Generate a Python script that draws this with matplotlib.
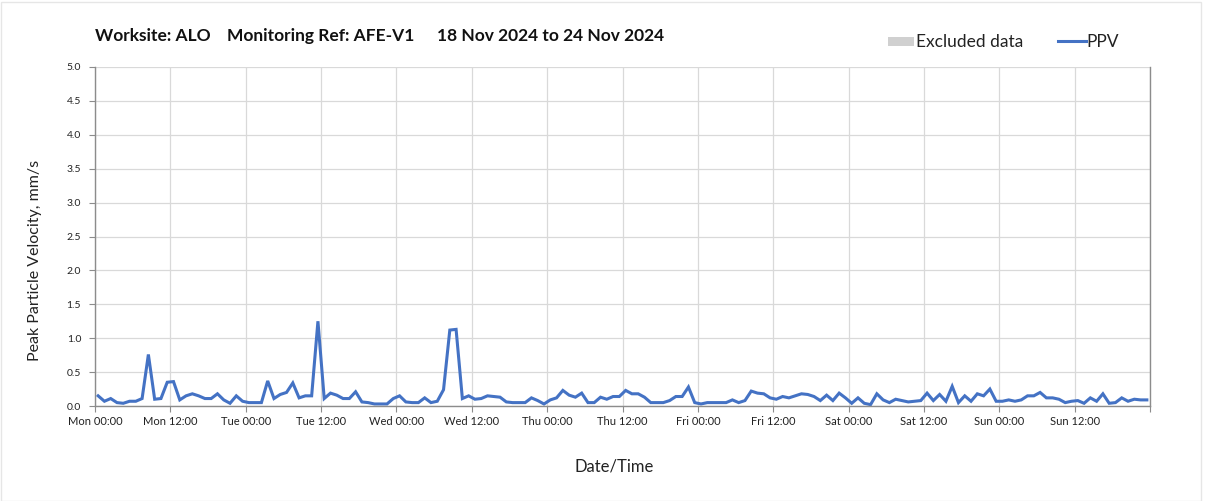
import matplotlib
matplotlib.use("Agg")
import matplotlib.pyplot as plt
from matplotlib.patches import Rectangle
from matplotlib.lines import Line2D
import numpy as np

plt.rcParams['font.family'] = ['Lato', 'DejaVu Sans']

# hourly PPV values (mm/s), Mon 18 Nov 2024 00:00 -> Sun 24 Nov 2024 23:00
ppv = [
    0.15, 0.07, 0.11, 0.05, 0.04, 0.07, 0.07, 0.11, 0.76, 0.10, 0.11, 0.35,
    0.36, 0.09, 0.15, 0.18, 0.15, 0.11, 0.11, 0.18, 0.09, 0.04, 0.15, 0.07,
    0.05, 0.05, 0.05, 0.37, 0.11, 0.17, 0.20, 0.34, 0.12, 0.15, 0.15, 1.25,
    0.11, 0.19, 0.16, 0.11, 0.11, 0.21, 0.06, 0.05, 0.03, 0.03, 0.03, 0.11,
    0.15, 0.06, 0.05, 0.05, 0.12, 0.05, 0.07, 0.24, 1.12, 1.13, 0.11, 0.15,
    0.10, 0.11, 0.15, 0.14, 0.13, 0.06, 0.05, 0.05, 0.05, 0.12, 0.08, 0.03,
    0.09, 0.12, 0.23, 0.16, 0.13, 0.19, 0.05, 0.05, 0.13, 0.10, 0.14, 0.14,
    0.23, 0.18, 0.18, 0.13, 0.05, 0.05, 0.05, 0.08, 0.14, 0.14, 0.28, 0.05,
    0.03, 0.05, 0.05, 0.05, 0.05, 0.09, 0.05, 0.08, 0.22, 0.19, 0.18, 0.12,
    0.10, 0.14, 0.12, 0.15, 0.18, 0.17, 0.14, 0.08, 0.16, 0.08, 0.19, 0.12,
    0.04, 0.12, 0.04, 0.02, 0.18, 0.09, 0.05, 0.10, 0.08, 0.06, 0.07, 0.08,
    0.19, 0.08, 0.17, 0.07, 0.29, 0.05, 0.15, 0.07, 0.18, 0.15, 0.25, 0.07,
    0.07, 0.09, 0.07, 0.09, 0.15, 0.15, 0.20, 0.12, 0.12, 0.10, 0.05, 0.07,
    0.08, 0.04, 0.12, 0.07, 0.18, 0.04, 0.05, 0.12, 0.07, 0.10, 0.09, 0.09,
]
hours = np.arange(len(ppv)) + 0.5

tick_hours = list(range(0, 169, 12))
tick_labels = ["Mon 00:00", "Mon 12:00", "Tue 00:00", "Tue 12:00", "Wed 00:00",
               "Wed 12:00", "Thu 00:00", "Thu 12:00", "Fri 00:00", "Fri 12:00",
               "Sat 00:00", "Sat 12:00", "Sun 00:00", "Sun 12:00", ""]
y_ticks = [0.0, 0.5, 1.0, 1.5, 2.0, 2.5, 3.0, 3.5, 4.0, 4.5, 5.0]

W, H = 1208, 501
fig = plt.figure(figsize=(W / 100, H / 100), dpi=100)
fig.patch.set_facecolor('white')
ax = fig.add_axes([95 / W, 1 - 406 / H, (1150 - 95) / W, (406 - 67) / H])

line_color = '#4472C4'
ax.plot(hours, ppv, color=line_color, lw=2.2, solid_joinstyle='miter')

ax.set_xlim(0, 168)
ax.set_ylim(0, 5.0)
ax.set_xticks(tick_hours)
ax.set_xticklabels(tick_labels, fontsize=8, color='#222222')
ax.set_yticks(y_ticks)
ax.set_yticklabels([f"{v:.1f}" for v in y_ticks], fontsize=7.5, color='#222222')
ax.grid(True, color='#d9d9d9', lw=0.9)
ax.set_axisbelow(True)
for s in ['left', 'bottom', 'right']:
    ax.spines[s].set_color('#8c8c8c')
    ax.spines[s].set_linewidth(1.0)
ax.spines['top'].set_visible(False)
ax.tick_params(axis='both', direction='out', length=4, color='#8c8c8c', pad=3)
ax.tick_params(axis='y', pad=6)

ax.set_xlabel("Date/Time", fontsize=12, color='#222222')
ax.xaxis.set_label_coords((614 - 95) / 1055, -(466 - 406) / 339)
ax.set_ylabel("Peak Particle Velocity, mm/s", fontsize=11.5, color='#222222')
ax.yaxis.set_label_coords(-(95 - 35) / 1055, (406 - 260) / 339)
ax.xaxis.label.set_va('center')
ax.yaxis.label.set_va('center')

title_y = 1 - 36 / H
fig.text(95 / W, title_y, "Worksite: ALO", fontsize=12.5, fontweight='bold',
         color='#111111', va='center', ha='left')
fig.text(227 / W, title_y, "Monitoring Ref: AFE-V1", fontsize=12.5, fontweight='bold',
         color='#111111', va='center', ha='left')
fig.text(437 / W, title_y, "18 Nov 2024 to 24 Nov 2024", fontsize=12.5, fontweight='bold',
         color='#111111', va='center', ha='left')

# legend
fig.patches.append(Rectangle((888 / W, 1 - 46 / H), 26 / W, 9 / H,
                             transform=fig.transFigure, facecolor='#d0d0d0', edgecolor='none'))
fig.text(916 / W, 1 - 42 / H, "Excluded data", fontsize=12.5, color='#222222', va='center', ha='left')
fig.lines.append(Line2D([1058 / W, 1086 / W], [1 - 41 / H, 1 - 41 / H],
                        transform=fig.transFigure, color=line_color, lw=2.2))
fig.text(1086 / W, 1 - 42 / H, "PPV", fontsize=12.5, color='#222222', va='center', ha='left')

# outer border
fig.patches.append(Rectangle((0.5 / W, 0.5 / H), (W - 8) / W, (H - 2) / H,
                             transform=fig.transFigure, facecolor='none',
                             edgecolor='#e6e6e6', lw=1.0))

fig.savefig("out.png", dpi=100, facecolor='white')
